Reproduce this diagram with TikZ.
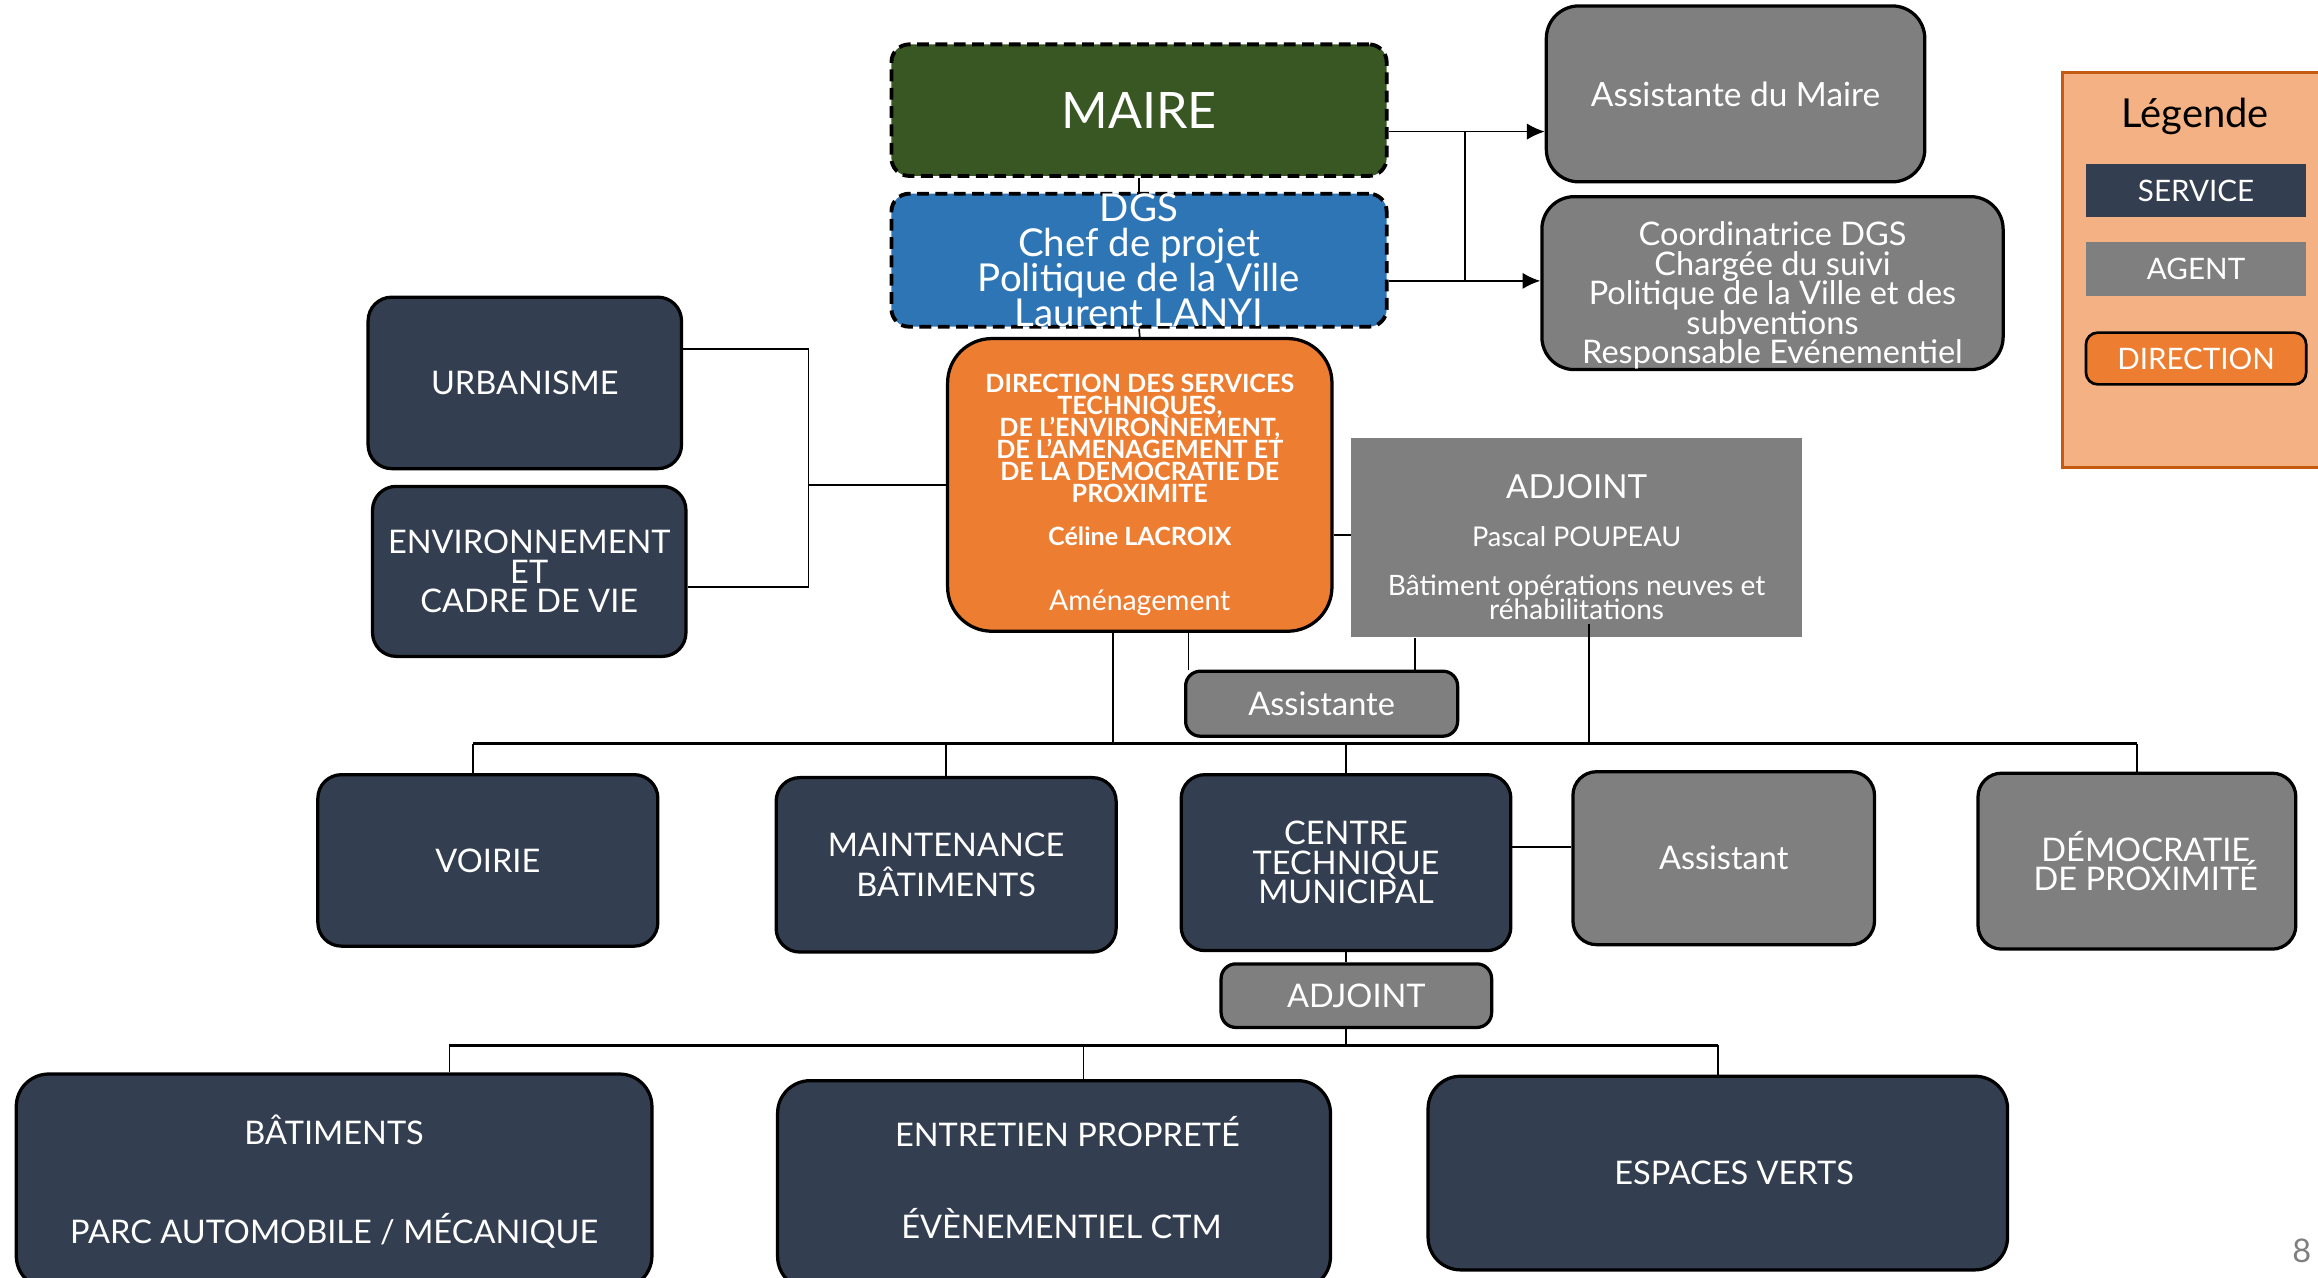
\documentclass[tikz,border=0pt]{standalone}
\usepackage{fontspec}
\setmainfont{Lato}
\usetikzlibrary{arrows.meta,calc}
\definecolor{navy}{HTML}{333F50}
\definecolor{agray}{HTML}{7F7F7F}
\definecolor{dorange}{HTML}{ED7D31}
\definecolor{mgreen}{HTML}{385723}
\definecolor{dblue}{HTML}{2E75B6}
\definecolor{lfill}{HTML}{F4B183}
\definecolor{lborder}{HTML}{C55A11}
\lineskiplimit=-100pt
\begin{document}
\begin{tikzpicture}[x=0.5pt,y=-0.5pt,
 box/.style={draw=black,line width=1.1pt,rounded corners=8pt,text=white,align=center,inner sep=0pt,font=\fontsize{11}{10}\selectfont},
 svc/.style={box,fill=navy},
 agt/.style={box,fill=agray},
 dashbox/.style={box,dash pattern=on 4pt off 2.2pt,line width=1.3pt,rounded corners=6pt},
 conn/.style={line width=0.55pt,black},
 busline/.style={line width=0.9pt,black},
 arr/.style={conn,-{Latex[length=6pt,width=5.5pt]}},
 legitem/.style={text=white,minimum width=74.5pt,minimum height=18pt,inner sep=0pt,font=\fontsize{10}{10}\selectfont},
]
\useasboundingbox (0,0) rectangle (1568,864);
\clip (0,0) rectangle (1568,864);

% top
\node[dashbox,fill=mgreen,minimum width=167.5pt,minimum height=44.5pt,font=\fontsize{17}{17}\selectfont] (maire) at (770.5,74.5) {MAIRE};
\node[dashbox,fill=dblue,minimum width=167.5pt,minimum height=45pt,font=\fontsize{13}{11.75}\selectfont] (dgs) at (770.5,176) {DGS\\Chef de projet\\Politique de la Ville\\Laurent LANYI};
\node[agt,rounded corners=11pt,minimum width=128pt,minimum height=59.5pt,font=\fontsize{11.3}{11}\selectfont] (asmaire) at (1174,63.5) {Assistante du Maire};
\node[agt,rounded corners=11pt,minimum width=156pt,minimum height=58.5pt,font=\fontsize{11}{10}\selectfont] (coord) at (1199,191.5) {\rule{0pt}{16.5pt}Coordinatrice DGS\\Chargée du suivi\\Politique de la Ville et des\\subventions\\Responsable Evénementiel};

% legend
\node[draw=lborder,fill=lfill,line width=1pt,minimum width=91.5pt,minimum height=133.5pt,inner sep=0pt] (legend) at (1486.5,182.5) {};
\node[font=\fontsize{13.5}{13.5}\selectfont,text=black,inner sep=0pt] (legendtitle) at (1485,79) {Légende};
\node[legitem,fill=navy] (lgservice) at (1485.5,129) {SERVICE};
\node[legitem,fill=agray] (lgagent) at (1485.5,182) {AGENT};
\node[legitem,draw=black,line width=0.9pt,rounded corners=4pt,fill=dorange,minimum height=17.5pt] (lgdir) at (1485.5,242.5) {DIRECTION};

% left services
\node[svc,minimum width=106pt,minimum height=58pt] (urb) at (355,259) {URBANISME};
\node[svc,minimum width=106pt,minimum height=57.5pt] (env) at (358,386.5) {ENVIRONNEMENT\\ET\\CADRE DE VIE};

% direction
\node[box,fill=dorange,rounded corners=15pt,minimum width=130pt,minimum height=99pt,font=\fontsize{8.5}{7.4}\selectfont\bfseries] (dir) at (771,328) {\rule{0pt}{13pt}DIRECTION DES SERVICES\\TECHNIQUES,\\DE L’ENVIRONNEMENT,\\DE L’AMENAGEMENT ET\\DE LA DEMOCRATIE DE\\PROXIMITE\\[7.1pt]Céline LACROIX\\[14.6pt]{\mdseries\fontsize{9.6}{7.4}\selectfont Aménagement}};

\node[fill=agray,text=white,align=center,inner sep=0pt,minimum width=152.5pt,minimum height=67.5pt,font=\fontsize{9.5}{8}\selectfont] (adj1) at (1066.5,363.5) {{\fontsize{11.2}{8}\selectfont\rule{0pt}{14.5pt}ADJOINT}\\[8.5pt]{\fontsize{9.2}{8}\selectfont Pascal POUPEAU}\\[8.5pt]Bâtiment opérations neuves et\\réhabilitations};
\node[agt,rounded corners=5pt,minimum width=92pt,minimum height=22pt] (assist) at (894,476) {Assistante};

% row 2
\node[svc,minimum width=115pt,minimum height=58pt] (voirie) at (330,582) {VOIRIE};
\node[svc,minimum width=115pt,minimum height=59pt] (maint) at (640,585) {MAINTENANCE\\[3.5pt]BÂTIMENTS};
\node[svc,minimum width=111.5pt,minimum height=59.5pt] (ctm) at (910.5,583.5) {CENTRE\\TECHNIQUE\\MUNICIPAL};
\node[agt,minimum width=102pt,minimum height=58.5pt] (assistant) at (1166,580.5) {Assistant};
\node[agt,minimum width=107.5pt,minimum height=59.5pt] (demo) at (1445.5,582.5) {\hspace*{6pt}DÉMOCRATIE\\\hspace*{6pt}DE PROXIMITÉ};
\node[agt,rounded corners=5pt,minimum width=91.5pt,minimum height=21.5pt] (adj2) at (917.5,673.5) {ADJOINT};

% row 3
\node[svc,rounded corners=11pt,minimum width=215pt,minimum height=72.5pt] (bat) at (226,799) {BÂTIMENTS\\[23.5pt]PARC AUTOMOBILE / MÉCANIQUE};
\node[svc,rounded corners=11pt,minimum width=187pt,minimum height=70.5pt] (ent) at (713,801.5) {\hspace*{9pt}ENTRETIEN PROPRETÉ\\[21pt]\hspace*{5pt}ÉVÈNEMENTIEL CTM\rule[-5pt]{0pt}{5pt}};
\node[svc,rounded corners=11pt,minimum width=196pt,minimum height=65.5pt] (esp) at (1162,793.5) {\hspace*{11pt}ESPACES VERTS};

\node[text=agray,font=\fontsize{11}{11}\selectfont,inner sep=0pt] (pagenum) at (1557,846) {8};

% connectors top
\coordinate (m1) at ([yshift=-7.25pt]maire.east);
\coordinate (d1) at ([yshift=-7pt]dgs.east);
\coordinate (jx) at (991,0);
\draw[arr] (m1) -- (m1 -| asmaire.west);
\draw[arr] (d1) -- (d1 -| coord.west);
\draw[conn] (m1 -| jx) -- (d1 -| jx);
\draw[conn] (maire.south) -- (dgs.north);
\draw[conn] (dgs.south) -- (dir.north);

% left bracket
\coordinate (u1) at ([yshift=11.5pt]urb.east);
\coordinate (e1) at ([yshift=-5.25pt]env.east);
\coordinate (bx) at (547,0);
\draw[conn] (u1) -- (u1 -| bx) -- (e1 -| bx) -- (e1);
\draw[conn] (bx |- dir.west) -- (dir.west);

% direction links
\coordinate (r1) at ([yshift=-17pt]dir.east);
\draw[conn] (r1) -- (r1 -| adj1.west);
\coordinate (a1) at ([xshift=1.5pt]assist.north west);
\draw[conn] (a1 |- dir.south) -- (a1);
\coordinate (a2) at ([xshift=31.5pt]assist.north);
\draw[conn] (a2 |- adj1.south) -- (a2);

% bus 1
\coordinate (bus) at (0,503);
\coordinate (d2) at ([xshift=-9pt]dir.south);
\draw[conn] (d2) -- (d2 |- bus);
\coordinate (a3) at ([xshift=4.25pt,yshift=4.5pt]adj1.south);
\draw[conn] (a3) -- (a3 |- bus);
\coordinate (v1) at ([xshift=-5pt]voirie.north);
\draw[busline] (v1 |- bus) -- (demo.north |- bus);
\draw[conn] (v1 |- bus) -- (v1);
\draw[conn] (maint.north |- bus) -- (maint.north);
\draw[conn] (ctm.north |- bus) -- (ctm.north);
\draw[conn] (demo.north |- bus) -- (demo.north);

% ctm links
\coordinate (c1) at ([yshift=5.25pt]ctm.east);
\draw[conn] (c1) -- (c1 -| assistant.west);
\draw[conn] (ctm.south) -- (ctm.south |- adj2.north);

% bus 2
\coordinate (bus2) at (0,707);
\draw[conn] (ctm.south |- adj2.south) -- (ctm.south |- bus2);
\coordinate (b1) at (304,0);
\coordinate (en1) at (733,0);
\draw[busline] (b1 |- bus2) -- (esp.north |- bus2);
\draw[conn] (b1 |- bus2) -- (b1 |- bat.north);
\draw[conn] (en1 |- bus2) -- (en1 |- ent.north);
\draw[conn] (esp.north |- bus2) -- (esp.north);
\end{tikzpicture}
\end{document}
